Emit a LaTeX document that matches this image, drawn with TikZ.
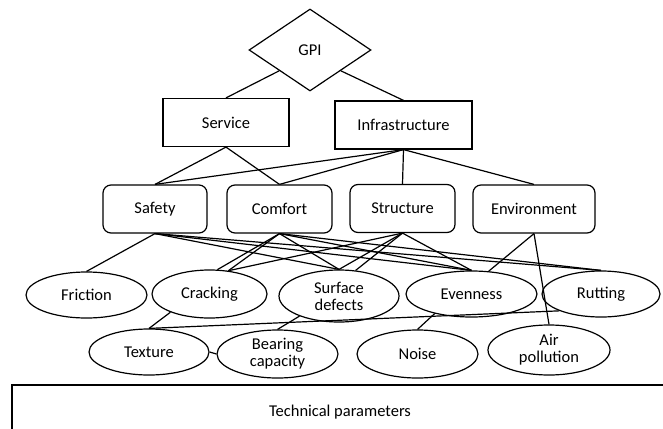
\documentclass[tikz,border=0pt]{standalone}
\usepackage{fontspec}
\setmainfont{Carlito}
\usetikzlibrary{shapes.geometric}
\begin{document}
\begin{tikzpicture}[x=1pt,y=-1pt,
  every node/.style={font=\fontsize{16.5}{19}\selectfont, align=center, inner sep=0pt, text=black},
  link/.style={draw=black, line width=1.2pt},
  gpibox/.style={diamond, draw, line width=1.2pt, minimum width=122pt, minimum height=82pt},
  groupbox/.style={rectangle, draw, line width=1.2pt, minimum height=48pt},
  indexbox/.style={rectangle, rounded corners=8pt, draw, line width=1.2pt, minimum height=48pt},
  param/.style={ellipse, draw, line width=1.2pt, minimum height=46pt, minimum width=120pt}]
\clip (0,0) rectangle (663,428);
\useasboundingbox (0,0) rectangle (663,428);
\fill[white] (0,0) rectangle (663,428);

% top level
\node[gpibox] (gpi) at (310,50) {GPI};
\node[groupbox, minimum width=126pt] (serv) at (226,122.5) {Service};
\node[groupbox, minimum width=137pt] (infra) at (403.5,125) {Infrastructure};

% combined indices
\node[indexbox, minimum width=104pt] (safe) at (155,209) {Safety};
\node[indexbox, minimum width=105pt] (comf) at (279.5,209) {Comfort};
\node[indexbox, minimum width=105pt] (struc) at (402.5,208.5) {Structure};
\node[indexbox, minimum width=122pt] (envi) at (534,209) {Environment};

% technical parameters, first row
\node[param, minimum width=121pt] (fric) at (86.5,295) {Friction};
\node[param, minimum width=115pt, minimum height=48pt] (crack) at (209.5,294) {Cracking};
\node[param, minimum width=120pt, minimum height=52pt] (surf) at (339,296) {Surface\\[-2pt]defects};
\node[param, minimum width=131pt] (even) at (471.5,294) {Evenness};
\node[param, minimum width=118pt] (rut) at (601,294) {Rutting};

% technical parameters, second row
\node[param] (text) at (149,352) {Texture};
\node[param, minimum width=121pt, minimum height=48pt] (bear) at (277.5,354) {Bearing\\[-2pt]capacity};
\node[param, minimum width=121pt, minimum height=48pt] (noise) at (417.5,354) {Noise};
\node[param, minimum width=122pt, minimum height=50pt] (air) at (549,350) {Air\\[-2pt]pollution};

% bottom band
\draw[line width=1.2pt] (12,460) -- (12,385) -- (700,385);
\node (tech) at (340,412) {Technical parameters};

% GPI to groups
\draw[link] (gpi.south west) -- (serv.north);
\draw[link] (gpi.south east) -- (infra.north);

% groups to indices
\draw[link] (serv.south) -- (safe.north);
\draw[link] (serv.south) -- (comf.north);
\draw[link] (infra.south) -- (safe.north);
\draw[link] (infra.south) -- (comf.north);
\draw[link] (infra.south) -- (struc.north);
\draw[link] (infra.south) -- (envi.north);

% safety
\draw[link] (safe.south) -- (fric.north);
\draw[link] (safe.south) -- (surf.north);
\draw[link] (safe.south) -- (even.north);
\draw[link] (safe.south) -- (rut.north);

% comfort
\draw[link] (comf.south) -- (crack.72);
\draw[link] (comf.south) -- (crack.51);
\draw[link] (comf.south) -- (surf.north);
\draw[link] (comf.south) -- (even.north);
\draw[link] (comf.south) -- (rut.north);

% structure
\draw[link] (struc.south) -- (crack.51);
\draw[link] (struc.south) -- (surf.north);
\draw[link] (struc.south) -- (surf.57);
\draw[link] (struc.south) -- (even.north);

% environment
\draw[link] (envi.south) -- (even.53);
\draw[link] (envi.south) -- (air.north);

% between parameters
\draw[link] (crack.205) -- (text.north);
\draw[link] (text.north) -- (rut.202);
\draw[link] (text.east) -- (bear.west);
\draw[link] (surf.207) -- (bear.north);
\draw[link] (even.208) -- (noise.north);
\end{tikzpicture}
\end{document}
